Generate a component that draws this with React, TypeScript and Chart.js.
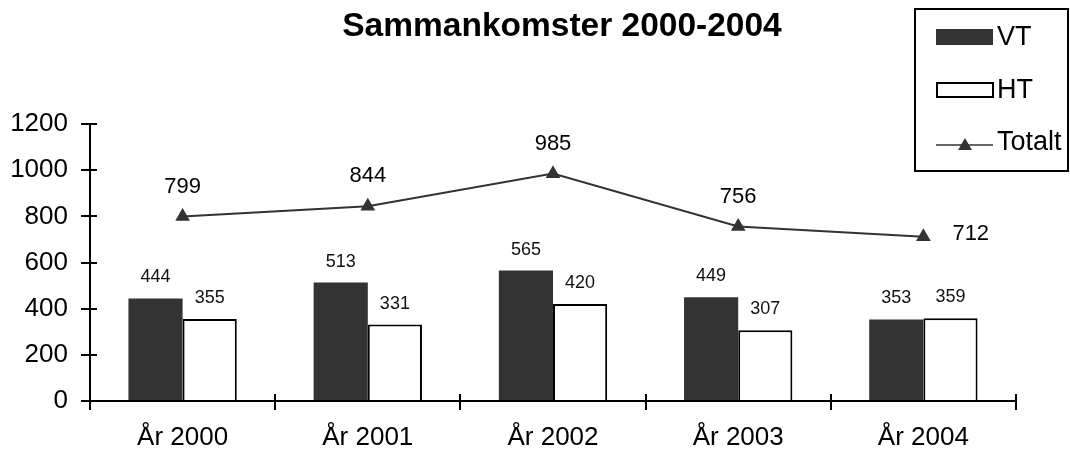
import React, { useEffect, useRef } from 'react';
import { Chart, registerables } from 'chart.js';

Chart.register(...registerables);

// ---- Data ----
const TITLE = 'Sammankomster 2000-2004';
const categories = ['År 2000', 'År 2001', 'År 2002', 'År 2003', 'År 2004'];
const vtValues = [444, 513, 565, 449, 353];
const htValues = [355, 331, 420, 307, 359];
const totalValues = [799, 844, 985, 756, 712];
const seriesNames = ['VT', 'HT', 'Totalt'];
const yMin = 0;
const yMax = 1200;
const yStep = 200;

// ---- Style ----
const FONT = '"Liberation Sans", Arial, Helvetica, sans-serif';
const DARK = '#333333';
const totalLabelPlacement = ['above', 'above', 'above', 'above', 'right'];

function drawTriangle(ctx: CanvasRenderingContext2D, x: number, y: number, r: number) {
  ctx.beginPath();
  for (let k = 0; k < 3; k++) {
    const a = (k * 2 * Math.PI) / 3;
    const px = x + Math.sin(a) * r;
    const py = y - Math.cos(a) * r;
    if (k === 0) ctx.moveTo(px, py);
    else ctx.lineTo(px, py);
  }
  ctx.closePath();
  ctx.fill();
}

const annotatePlugin = {
  id: 'annotate',
  afterDraw(chart: any) {
    const ctx: CanvasRenderingContext2D = chart.ctx;
    const area = chart.chartArea;
    const xs = chart.scales.x;
    const ys = chart.scales.y;
    ctx.save();

    // title
    ctx.fillStyle = '#000';
    ctx.textAlign = 'center';
    ctx.textBaseline = 'middle';
    ctx.font = `bold 33.5px ${FONT}`;
    ctx.fillText(TITLE, 562, 26.5);

    // inner halves of the crossing tick marks
    ctx.strokeStyle = '#000';
    ctx.lineWidth = 2;
    ctx.beginPath();
    ys.ticks.forEach((_: any, i: number) => {
      const py = Math.round(ys.getPixelForTick(i));
      ctx.moveTo(area.left, py);
      ctx.lineTo(area.left + 7, py);
    });
    for (let i = 0; i <= categories.length; i++) {
      const px = Math.round(xs.getPixelForDecimal(i / categories.length));
      ctx.moveTo(px, area.bottom);
      ctx.lineTo(px, area.bottom - 7);
    }
    ctx.stroke();

    // bar value labels
    ctx.fillStyle = '#111';
    ctx.textAlign = 'center';
    ctx.textBaseline = 'middle';
    ctx.font = `18px ${FONT}`;
    [0, 1].forEach((di) => {
      const meta = chart.getDatasetMeta(di);
      const vals = chart.data.datasets[di].data as number[];
      meta.data.forEach((el: any, i: number) => {
        ctx.fillText(String(vals[i]), el.x, el.y - 21);
      });
    });

    // line value labels
    ctx.font = `22px ${FONT}`;
    ctx.fillStyle = '#000';
    const lmeta = chart.getDatasetMeta(2);
    const lvals = chart.data.datasets[2].data as number[];
    lmeta.data.forEach((el: any, i: number) => {
      if (totalLabelPlacement[i] === 'right') {
        ctx.textAlign = 'left';
        ctx.fillText(String(lvals[i]), el.x + 29, el.y - 3);
      } else {
        ctx.textAlign = 'center';
        ctx.fillText(String(lvals[i]), el.x, el.y - 30);
      }
    });

    // legend
    const ds = chart.data.datasets;
    ctx.lineWidth = 2;
    ctx.strokeStyle = '#000';
    ctx.strokeRect(915, 9, 153, 162);
    ctx.font = `27px ${FONT}`;
    ctx.textAlign = 'left';
    ctx.textBaseline = 'middle';
    const rowsY = [38, 91, 143];
    // VT
    ctx.fillStyle = ds[0].backgroundColor;
    ctx.fillRect(936, 29, 57, 16);
    // HT
    ctx.fillStyle = ds[1].backgroundColor;
    ctx.fillRect(937, 83, 56, 14);
    ctx.strokeStyle = ds[1].borderColor;
    ctx.strokeRect(937, 83, 56, 14);
    // Totalt
    ctx.strokeStyle = ds[2].borderColor;
    ctx.lineWidth = 1.5;
    ctx.beginPath();
    ctx.moveTo(936, 145);
    ctx.lineTo(993, 145);
    ctx.stroke();
    ctx.fillStyle = ds[2].pointBackgroundColor;
    drawTriangle(ctx, 965, 146, 8);
    ctx.fillStyle = '#000';
    ds.forEach((d: any, i: number) => {
      ctx.fillText(d.label, 997, rowsY[i]);
    });

    ctx.restore();
  },
};

export default function App() {
  const ref = useRef<HTMLCanvasElement | null>(null);

  useEffect(() => {
    document.body.style.margin = '0';
    if (!ref.current) return;
    const chart = new Chart(ref.current, {
      type: 'bar',
      data: {
        labels: categories,
        datasets: [
          {
            type: 'bar',
            label: seriesNames[0],
            data: vtValues,
            backgroundColor: DARK,
            borderColor: DARK,
            borderWidth: 0,
            order: 2,
          },
          {
            type: 'bar',
            label: seriesNames[1],
            data: htValues,
            backgroundColor: '#ffffff',
            borderColor: '#000000',
            borderWidth: 2,
            order: 2,
          },
          {
            type: 'line',
            label: seriesNames[2],
            data: totalValues,
            borderColor: '#333333',
            borderWidth: 2,
            tension: 0,
            pointStyle: 'triangle',
            pointRadius: 8.5,
            pointBackgroundColor: DARK,
            pointBorderColor: DARK,
            pointBorderWidth: 0,
            order: 1,
          } as any,
        ],
      },
      options: {
        responsive: false,
        animation: false,
        devicePixelRatio: 1,
        layout: { padding: { left: 0, right: 54, top: 124, bottom: 0 } },
        datasets: {
          bar: { categoryPercentage: 0.585, barPercentage: 1 },
        } as any,
        plugins: {
          legend: { display: false },
          tooltip: { enabled: false },
          title: { display: false },
        },
        scales: {
          x: {
            afterFit: (s: any) => {
              s.height = 51;
            },
            border: { display: true, color: '#000', width: 2 },
            grid: {
              display: true,
              drawOnChartArea: false,
              drawTicks: true,
              tickLength: 9,
              color: '#000',
              lineWidth: 2,
              offset: true,
            },
            ticks: {
              color: '#000',
              font: { family: FONT, size: 26 },
              padding: 12,
              autoSkip: false,
              maxRotation: 0,
            },
          },
          y: {
            min: yMin,
            max: yMax,
            afterFit: (s: any) => {
              s.width = 90;
            },
            border: { display: true, color: '#000', width: 2 },
            grid: {
              display: true,
              drawOnChartArea: false,
              drawTicks: true,
              tickLength: 9,
              color: '#000',
              lineWidth: 2,
            },
            ticks: {
              stepSize: yStep,
              color: '#000',
              font: { family: FONT, size: 26 },
              padding: 13,
              callback: (v: any) => String(v),
            },
          },
        },
      },
      plugins: [annotatePlugin],
    });
    return () => chart.destroy();
  }, []);

  return (
    <div style={{ width: 1070, height: 452, background: '#fff' }}>
      <canvas ref={ref} width={1070} height={452} style={{ display: 'block' }} />
    </div>
  );
}
